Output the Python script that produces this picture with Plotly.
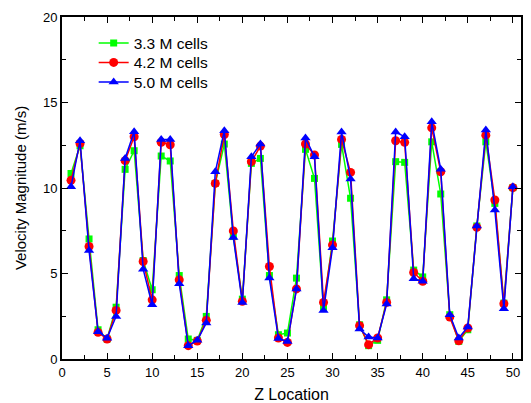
import plotly.graph_objects as go

z = list(range(1, 51))

cells_3_3 = [10.85, 12.47, 7.02, 1.71, 1.17, 3.03, 11.09, 12.18, 5.76, 4.05,
             11.87, 11.58, 4.88, 1.17, 1.09, 2.49, 10.27, 12.57, 7.16, 3.5,
             11.44, 11.73, 4.88, 1.42, 1.52, 4.73, 12.26, 10.56, 2.98, 6.9,
             12.55, 9.4, 2.0, 0.78, 1.09, 3.46, 11.54, 11.5, 5.2, 4.8,
             12.7, 9.65, 2.59, 1.03, 1.71, 7.78, 12.7, 9.1, 3.27, 10.02]
cells_4_2 = [10.45, 12.6, 6.58, 1.56, 1.17, 2.84, 11.6, 13.0, 5.7, 3.46,
             12.67, 12.53, 4.63, 0.78, 1.05, 2.26, 10.27, 13.13, 7.49, 3.37,
             11.54, 12.45, 5.41, 1.23, 0.97, 4.1, 12.57, 11.93, 3.31, 6.67,
             12.84, 10.91, 1.95, 0.84, 1.23, 3.31, 12.76, 12.67, 5.06, 4.55,
             13.52, 10.95, 2.45, 1.07, 1.81, 7.7, 13.09, 9.3, 3.23, 10.02]
cells_5_0 = [10.07, 12.76, 6.34, 1.6, 1.22, 2.49, 11.73, 13.29, 5.25, 3.17,
             12.84, 12.84, 4.4, 0.78, 1.09, 2.1, 10.95, 13.35, 7.1, 3.3,
             11.83, 12.57, 4.73, 1.2, 1.03, 4.09, 12.92, 11.83, 2.84, 6.5,
             13.27, 10.53, 1.75, 1.28, 1.23, 3.21, 13.27, 13.0, 4.69, 4.55,
             13.87, 11.09, 2.59, 1.23, 1.87, 7.78, 13.39, 8.72, 2.94, 10.08]

series = [
    ("3.3 M cells", cells_3_3, "#00ff00", "square", 7, "legend", 0.923),
    ("4.2 M cells", cells_4_2, "#ff0000", "circle", 9, "legend2", 0.866),
    ("5.0 M cells", cells_5_0, "#0000ff", "triangle-up", 9, "legend3", 0.809),
]

font = "Arial, 'Liberation Sans', sans-serif"

fig = go.Figure()
legends = {}
for name, vals, col, sym, sz, lg, ly in series:
    fig.add_trace(go.Scatter(
        x=z, y=vals, name=name, mode="lines+markers", legend=lg,
        line=dict(color=col, width=1.5),
        marker=dict(color=col, symbol=sym, size=sz, line=dict(width=0)),
    ))
    legends[lg] = dict(x=0.069, y=ly, xanchor="left", yanchor="middle",
                       bgcolor="rgba(0,0,0,0)", font=dict(family=font, size=15.5))

axis_common = dict(
    showline=True, linecolor="black", linewidth=2, mirror="ticks",
    ticks="inside", ticklen=6, tickwidth=1.2, tickcolor="black",
    showgrid=False, zeroline=False, automargin=False,
    tickfont=dict(family=font, size=13, color="black"),
)

fig.update_layout(
    width=531, height=403,
    margin=dict(l=62, r=10, t=17, b=44, autoexpand=False),
    paper_bgcolor="white", plot_bgcolor="white",
    font=dict(family=font, color="black"),
    showlegend=True,
    xaxis=dict(range=[0, 50.9], dtick=5, tick0=0,
               minor=dict(dtick=2.5, ticks="inside", ticklen=4, tickcolor="black"),
               title=dict(text="Z Location", font=dict(family=font, size=16), standoff=11),
               **axis_common),
    yaxis=dict(range=[0, 20], dtick=5, tick0=0,
               minor=dict(dtick=2.5, ticks="inside", ticklen=4, tickcolor="black"),
               title=dict(text="Velocity Magnitude (m/s)", font=dict(family=font, size=15), standoff=13),
               **axis_common),
    **legends,
)

fig.write_html("out.html", config={"displayModeBar": False},
               post_script="document.body.style.margin='0px';")
